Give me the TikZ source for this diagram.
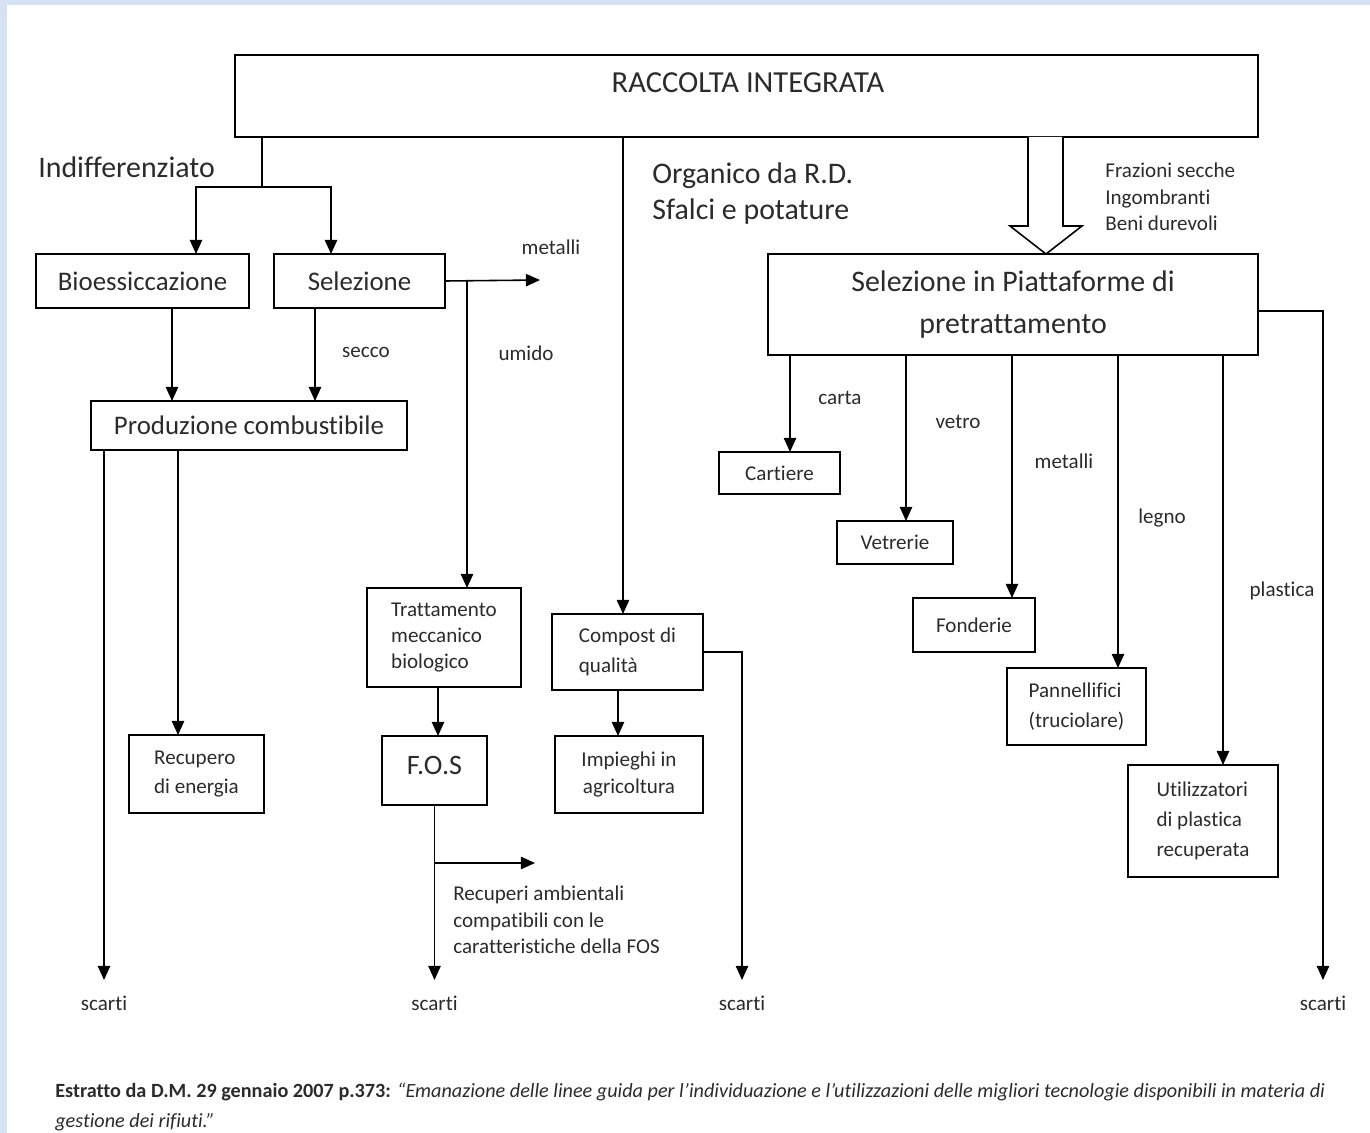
\documentclass[tikz,border=0pt]{standalone}
\usepackage{fontspec}
\setmainfont{Carlito}[Ligatures=NoCommon]
\usetikzlibrary{arrows.meta}
\definecolor{ink}{HTML}{2B2B2B}
\definecolor{slideblue}{HTML}{D6E2F3}

\begin{document}
\begin{tikzpicture}[x=0.02cm, y=-0.02cm,
    box/.style={draw, line width=1.4pt, inner sep=0pt, outer sep=0pt, text=ink},
    arr/.style={-{Triangle[length=8pt,width=7pt]}, line width=0.9pt},
    line/.style={line width=0.9pt},
    big/.style={font=\fontsize{17}{21}\selectfont, text=ink},
    mid/.style={font=\fontsize{15.3}{18}\selectfont, text=ink},
    small/.style={font=\fontsize{12}{15}\selectfont, text=ink},
    free/.style={anchor=west, align=left, inner xsep=0pt},
    scarto/.style={small, anchor=north, inner sep=9pt}]

    % Frame
    \useasboundingbox (0,0) rectangle (1370,1133);
    \fill[slideblue] (0,0) rectangle (1370,5);
    \fill[slideblue] (0,0) rectangle (7,1133);

    % Raccolta integrata
    \node[box, minimum width=20.46cm, minimum height=1.64cm] (raccolta) at (746.5,96) {};
    \node[big, font=\fontsize{17.4}{21}\selectfont] (raccoltatxt) at (748,83) {RACCOLTA INTEGRATA};

    % Indifferenziato
    \node[big, free] (indiff) at (38,167) {Indifferenziato};
    \node[box, mid, minimum width=4.26cm, minimum height=1.08cm] (bioess) at (142.5,281) {Bioessiccazione};
    \node[box, mid, minimum width=3.42cm, minimum height=1.08cm] (selezione) at (359.5,281) {Selezione};
    \node[box, mid, minimum width=6.32cm, minimum height=0.98cm] (prodcomb) at (249,425.5) {Produzione combustibile};
    \node[box, small, align=left, minimum width=2.7cm, minimum height=1.56cm] (recupero) at (196.5,774) {Recupero\\[2pt]di energia};

    % Umido
    \node[box, small, align=left, minimum width=3.08cm, minimum height=1.98cm] (trattamento) at (444,637.5) {Trattamento\\meccanico\\biologico};
    \node[box, big, font=\fontsize{16}{20}\selectfont, text depth=6pt, minimum width=2.1cm, minimum height=1.38cm] (fos) at (434.5,770.5) {F.O.S};

    % Organico
    \node[big, free, font=\fontsize{17}{20.5}\selectfont] (organico) at (652,194) {Organico da R.D.\\Sfalci e potature};
    \node[box, small, align=left, minimum width=3.02cm, minimum height=1.52cm] (compost) at (627.5,652) {Compost di\\[2pt]qualità};
    \node[box, small, align=center, minimum width=2.96cm, minimum height=1.54cm] (impieghi) at (629,774.5) {Impieghi in\\agricoltura};

    % Frazioni secche
    \node[small, free] (frazioni) at (1105,197) {Frazioni secche\\Ingombranti\\Beni durevoli};
    \node[box, big, align=center, font=\fontsize{17}{23.5}\selectfont, minimum width=9.8cm, minimum height=2.02cm] (selpiatt) at (1013,304.5) {Selezione in Piattaforme di\\pretrattamento};
    \node[box, small, minimum width=2.42cm, minimum height=0.84cm] (cartiere) at (779.5,473) {Cartiere};
    \node[box, small, minimum width=2.32cm, minimum height=0.86cm] (vetrerie) at (895,542.5) {Vetrerie};
    \node[box, small, minimum width=2.44cm, minimum height=1.08cm] (fonderie) at (974,625) {Fonderie};
    \node[box, small, align=left, minimum width=2.78cm, minimum height=1.54cm] (pannellifici) at (1076.5,706.5) {Pannellifici\\[2pt](truciolare)};
    \node[box, small, align=left, minimum width=3.0cm, minimum height=2.24cm] (utilizzatori) at (1203,821) {Utilizzatori\\[2pt]di plastica\\[2pt]recuperata};

    % Labels
    \node[small] (lblmetalli) at (551,247) {metalli};
    \node[small] (lblsecco) at (366,352) {secco};
    \node[small] (lblumido) at (526,353) {umido};
    \node[small] (lblcarta) at (840,398) {carta};
    \node[small] (lblvetro) at (958,422) {vetro};
    \node[small] (lblmetalli2) at (1064,461) {metalli};
    \node[small] (lbllegno) at (1162,518) {legno};
    \node[small] (lblplastica) at (1282,591) {plastica};
    \node[small, free] (lblrecuperi) at (453,920) {Recuperi ambientali\\compatibili con le\\caratteristiche della FOS};

    % Scarti
    \node[scarto] (scarti1) at (104,980) {scarti};
    \node[scarto] (scarti2) at (434.5,980) {scarti};
    \node[scarto] (scarti3) at (742,980) {scarti};
    \node[scarto] (scarti4) at (1323,980) {scarti};

    \coordinate (indsplit) at (262,187);
    \coordinate (metout) at (540,280);
    \coordinate (fosbranch) at (434.5,863);
    \coordinate (recout) at (535,863);

    % Arrows
    \draw[line] (raccolta.south -| indsplit) -- (indsplit);
    \draw[arr] (indsplit) -| (bioess.north -| 196,0);
    \draw[arr] (indsplit) -| (selezione.north -| 331,0);
    \draw[arr] (bioess.south -| 172,0) -- (prodcomb.north -| 172,0);
    \draw[arr] (selezione.south -| 315,0) -- (prodcomb.north -| 315,0);
    \draw[arr] (selezione.east) -- (metout);
    \draw[arr] (selezione.east -| 467,0) -- (trattamento.north -| 467,0);
    \draw[arr] (prodcomb.south -| scarti1.north) -- (scarti1.north);
    \draw[arr] (prodcomb.south -| 178,0) -- (recupero.north -| 178,0);
    \draw[arr] (trattamento.south -| 438,0) -- (fos.north -| 438,0);
    \draw[arr] (fos.south) -- (scarti2.north);
    \draw[arr] (fosbranch) -- (recout);
    \draw[arr] (raccolta.south -| 623,0) -- (compost.north -| 623,0);
    \draw[arr] (compost.south -| 618,0) -- (impieghi.north -| 618,0);
    \draw[arr] (compost.east) -| (scarti3.north);

    % Hollow arrow
    \draw[line, fill=white] (raccolta.south -| 1028,0) -- (1028,226) -- (1010,226) -- (selpiatt.north -| 1046,0) -- (1082,226) -- (1063,226) -- (raccolta.south -| 1063,0);

    \draw[arr] (selpiatt.east |- 0,311) -| (scarti4.north);
    \draw[arr] (selpiatt.south -| 790,0) -- (cartiere.north -| 790,0);
    \draw[arr] (selpiatt.south -| 906,0) -- (vetrerie.north -| 906,0);
    \draw[arr] (selpiatt.south -| 1012,0) -- (fonderie.north -| 1012,0);
    \draw[arr] (selpiatt.south -| 1118,0) -- (pannellifici.north -| 1118,0);
    \draw[arr] (selpiatt.south -| 1223,0) -- (utilizzatori.north -| 1223,0);

    % Caption
    \node[free, font=\fontsize{11.5}{17}\selectfont, text=ink] (caption1) at (55,1092) {\textbf{Estratto da D.M. 29 gennaio 2007 p.373:} \textit{“Emanazione delle linee guida per l’individuazione e l’utilizzazioni delle migliori tecnologie disponibili in materia di}};
    \node[free, font=\fontsize{11.5}{17}\selectfont, text=ink] (caption2) at (55,1122) {\textit{gestione dei rifiuti.”}};
\end{tikzpicture}
\end{document}
